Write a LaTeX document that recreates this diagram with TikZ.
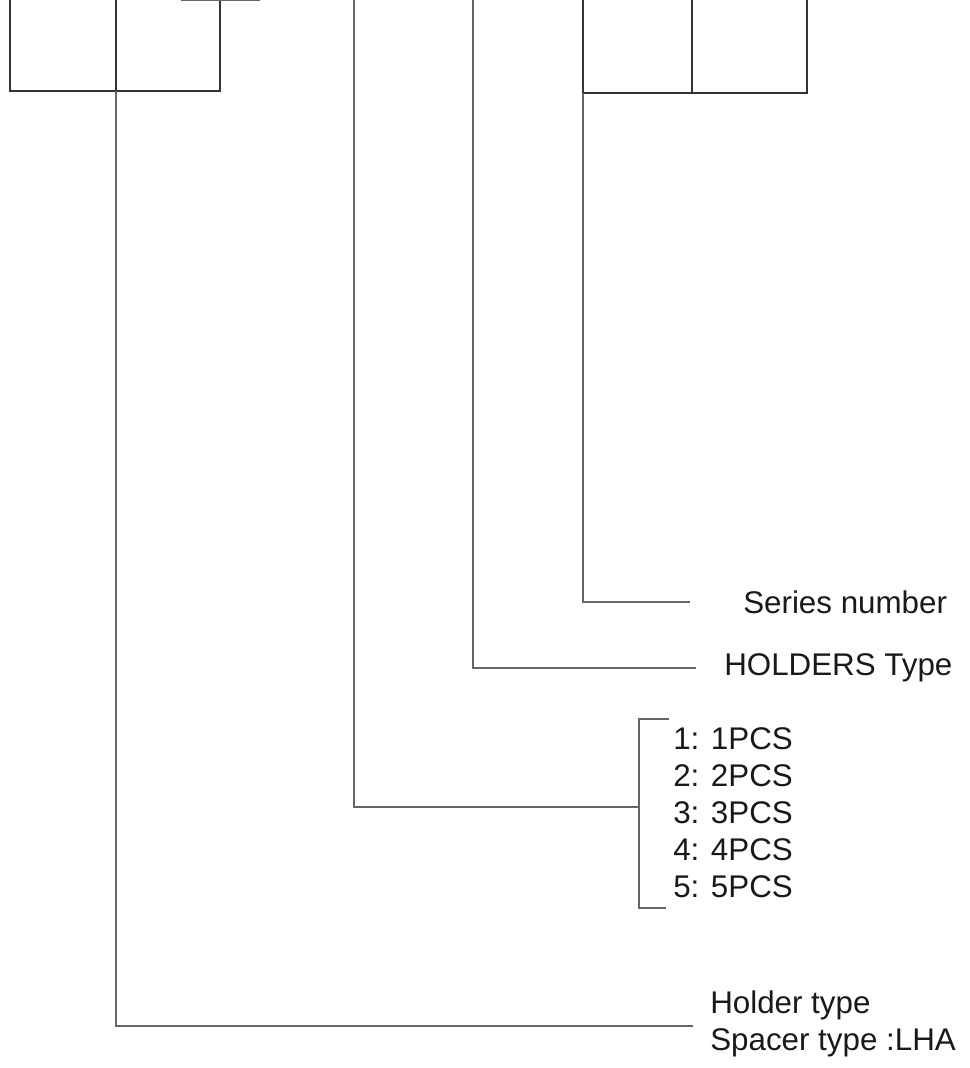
\documentclass[tikz,border=0pt]{standalone}
\usepackage{fontspec}
\setmainfont{Liberation Sans}
\usetikzlibrary{positioning}

\begin{document}
\begin{tikzpicture}[
    x=0.75pt, y=-0.75pt,
    frame line/.style={
        draw=black!80,
        line width=1.1pt
    },
    lead line/.style={
        draw=black!60,
        line width=1.1pt
    },
    label text/.style={
        font=\fontsize{23.5}{27.75}\selectfont,
        text=black!90,
        inner sep=0pt,
        anchor=west,
        align=left
    }
]
    \useasboundingbox (0,0) rectangle (970,1068);
    \clip (0,0) rectangle (970,1068);

    % --- CODE BOXES (top, cut off) ---
    \coordinate (lbox top) at (116,0);
    \coordinate (lbox bottom) at (116,91);
    \draw[frame line] (10,0) |- (220,91) -- (220,0);
    \draw[frame line] (lbox top) -- (lbox bottom);
    \draw[lead line] (181,0) -- (260,0);

    \coordinate (pcs top) at (354,0);
    \coordinate (type top) at (473,0);

    \coordinate (rbox bottom) at (583,93);
    \draw[frame line] (583,0) |- (807,93) -- (807,0);
    \draw[frame line] (692,0) -- (692,93);

    % --- LABELS ---
    \node[label text] (series) at (743,602) {Series number};
    \node[label text] (holders) at (724,668) {HOLDERS Type};

    \node[label text] (pcs1) at (673,739) {1: 1PCS};
    \node[label text] (pcs2) at (673,776) {2: 2PCS};
    \node[label text] (pcs3) at (673,813) {3: 3PCS};
    \node[label text] (pcs4) at (673,850) {4: 4PCS};
    \node[label text] (pcs5) at (673,887) {5: 5PCS};

    \node[label text] (holder) at (710,1023.5) {Holder type\\Spacer type :LHA};

    % --- LEAD LINES ---
    \coordinate (series end) at (690,602);
    \draw[lead line] (rbox bottom) -- (583,602) -- (series end);

    \coordinate (holders end) at (696,668);
    \draw[lead line] (type top) |- (holders end);

    % bracket round the PCS list
    \coordinate (brace top) at (669,719);
    \coordinate (brace mid) at (639,807);
    \coordinate (brace bottom) at (666,908);
    \draw[lead line] (brace top) -| (639,908) -- (brace bottom);
    \draw[lead line] (pcs top) |- (brace mid);

    \coordinate (holder end) at (693,1026);
    \draw[lead line] (lbox bottom) |- (holder end);

\end{tikzpicture}
\end{document}
